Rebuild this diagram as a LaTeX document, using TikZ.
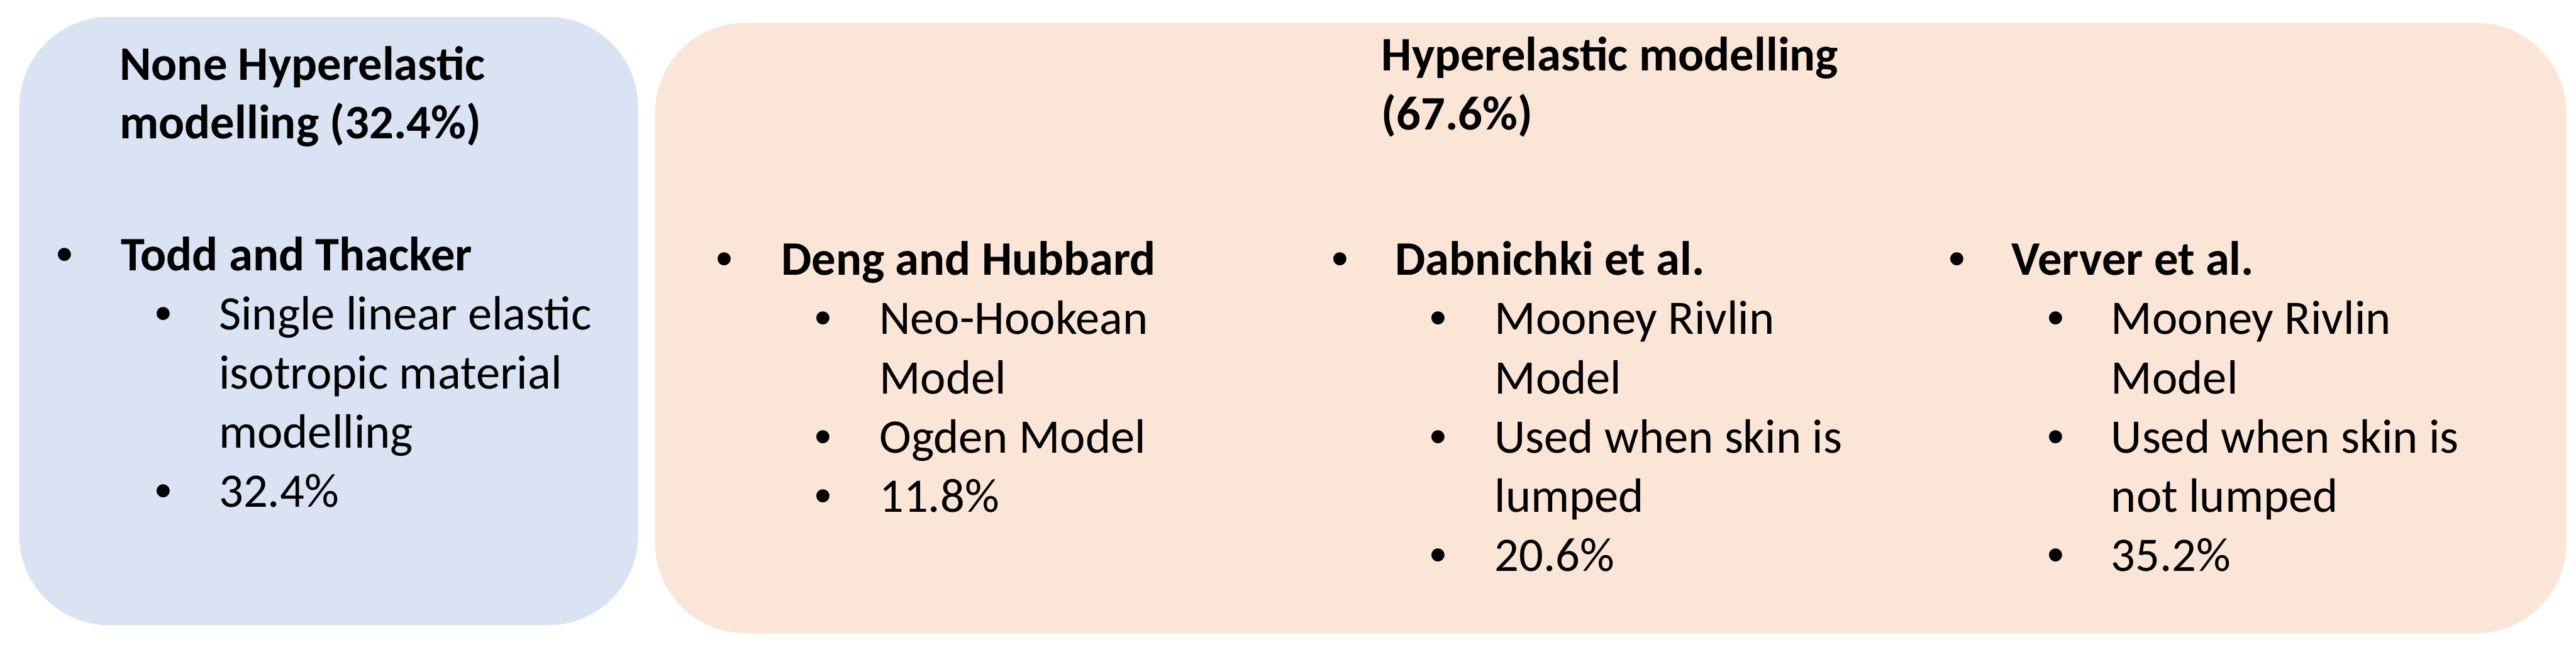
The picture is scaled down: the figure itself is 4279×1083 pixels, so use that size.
\documentclass[tikz,border=0pt]{standalone}
\usepackage{fontspec}
\setmainfont{Carlito}
\newfontfamily\bulletfont{Liberation Sans}
\definecolor{blueF}{HTML}{DAE3F3}
\definecolor{orangeF}{HTML}{FBE5D6}
\newcommand{\fsz}{\fontsize{20}{24}\selectfont}
\tikzset{
  txt/.style={anchor=base west, inner sep=0pt, font=\fsz},
  btxt/.style={anchor=base west, inner sep=0pt, font=\fsz\bfseries},
  bul/.style={anchor=base, inner sep=0pt, font=\bulletfont\fsz},
  panel/.style={draw=none, rounded corners=37.5pt, inner sep=0pt}
}
\begin{document}
\begin{tikzpicture}[x=0.25pt, y=-0.25pt]
\useasboundingbox (0,0) rectangle (4279,1083);
% panels
\node[panel, fill=blueF, minimum width=257pt, minimum height=252.75pt] (bluebox) at (546,533.5) {};
\node[panel, fill=orangeF, minimum width=793.75pt, minimum height=253.5pt] (orangebox) at (2675.5,545) {};
% left panel
\node[btxt] (t1a) at (198,133) {None Hyperelastic};
\node[btxt] (t1b) at (198,230) {modelling (32.4\%)};
\node[bul] (b1) at (107,450) {•};
\node[btxt] (l1) at (200,450) {Todd and Thacker};
\node[bul] (b1a) at (271,548) {•};
\node[txt] (l1a) at (363,548) {Single linear elastic};
\node[txt] (l1b) at (363,646) {isotropic material};
\node[txt] (l1c) at (363,744) {modelling};
\node[bul] (b1d) at (271,842) {•};
\node[txt] (l1d) at (363,842) {32.4\%};
% right panel title
\node[btxt] (t2a) at (2294,118) {Hyperelastic modelling};
\node[btxt] (t2b) at (2294,216) {(67.6\%)};
% Deng column
\node[bul] (b2) at (1203,457) {•};
\node[btxt] (l2) at (1297,457) {Deng and Hubbard};
\node[bul] (b2a) at (1367,555.5) {•};
\node[txt] (l2a) at (1460,555.5) {Neo-Hookean};
\node[txt] (l2b) at (1460,654) {Model};
\node[bul] (b2c) at (1367,752.5) {•};
\node[txt] (l2c) at (1460,752.5) {Ogden Model};
\node[bul] (b2d) at (1367,851) {•};
\node[txt] (l2d) at (1460,851) {11.8\%};
% Dabnichki column
\node[bul] (b3) at (2226,457) {•};
\node[btxt] (l3) at (2317,457) {Dabnichki et al.};
\node[bul] (b3a) at (2389,555.5) {•};
\node[txt] (l3a) at (2482,555.5) {Mooney Rivlin};
\node[txt] (l3b) at (2482,654) {Model};
\node[bul] (b3c) at (2389,752.5) {•};
\node[txt] (l3c) at (2482,752.5) {Used when skin is};
\node[txt] (l3d) at (2482,851) {lumped};
\node[bul] (b3e) at (2389,949.5) {•};
\node[txt] (l3e) at (2482,949.5) {20.6\%};
% Verver column
\node[bul] (b4) at (3251,457) {•};
\node[btxt] (l4) at (3341,457) {Verver et al.};
\node[bul] (b4a) at (3415,555.5) {•};
\node[txt] (l4a) at (3506,555.5) {Mooney Rivlin};
\node[txt] (l4b) at (3506,654) {Model};
\node[bul] (b4c) at (3415,752.5) {•};
\node[txt] (l4c) at (3506,752.5) {Used when skin is};
\node[txt] (l4d) at (3506,851) {not lumped};
\node[bul] (b4e) at (3415,949.5) {•};
\node[txt] (l4e) at (3506,949.5) {35.2\%};
\end{tikzpicture}
\end{document}
